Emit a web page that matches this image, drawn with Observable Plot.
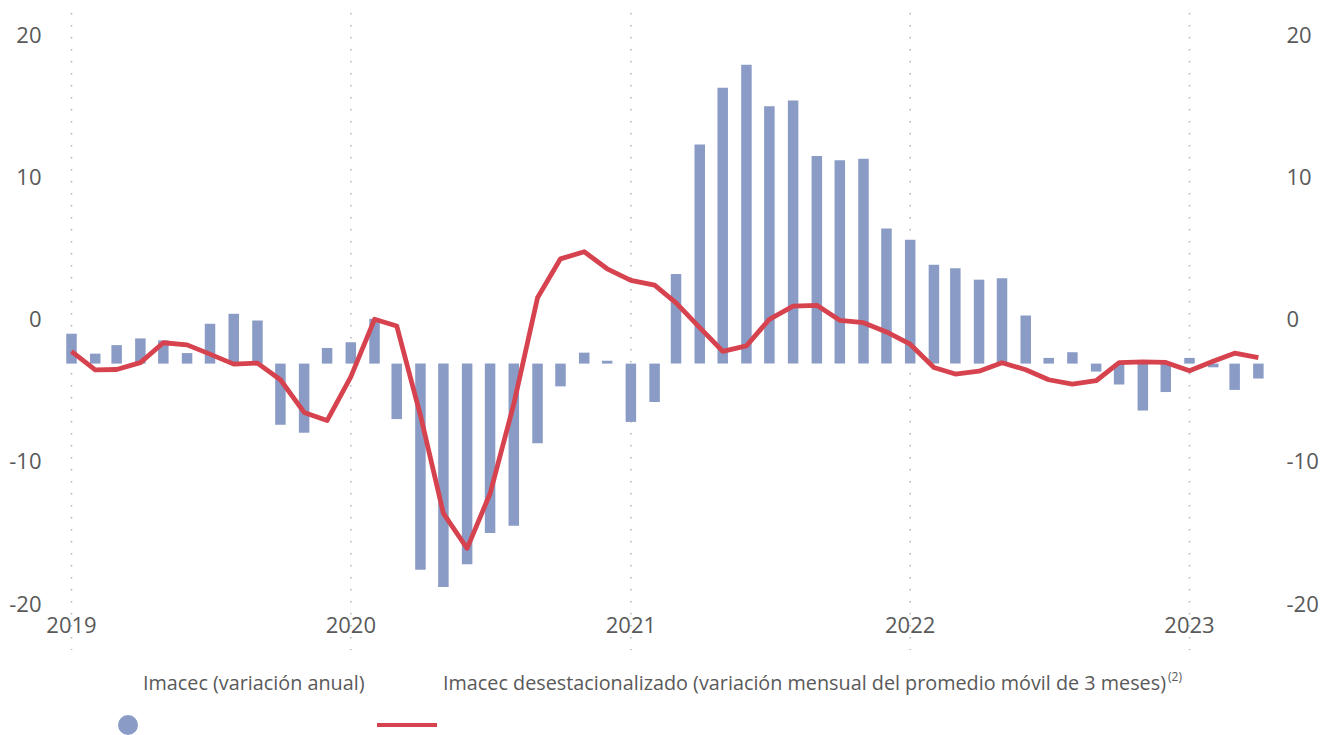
<!DOCTYPE html>
<html>
<head>
<meta charset="utf-8">
<script src="https://cdn.jsdelivr.net/npm/d3@7"></script>
<script src="https://cdn.jsdelivr.net/npm/@observablehq/plot@0.6"></script>
<style>
  html, body { margin: 0; padding: 0; background: #fff; }
  #wrap { position: relative; width: 1329px; height: 735px; font-family: "Open Sans", sans-serif; color: #595959; overflow: hidden; }
  .leg { position: absolute; font-size: 19.8px; line-height: 1; white-space: nowrap; }
  .leg sup { font-size: 12px; vertical-align: 0; position: relative; top: -9px; margin-left: 2px; }
</style>
</head>
<body>
<div id="wrap"></div>
<script>
// Monthly series, Jan 2019 .. Apr 2023
const startMonth = "2019-01";
const barValues = [
  -1.0, -2.4, -1.8, -1.33, -1.47, -2.36, -0.3, 0.4, -0.07, -7.4, -7.96, -2.0,
  -1.6, 0.05, -7.0, -17.6, -18.8, -17.2, -15.0, -14.5, -8.7, -4.7, -2.33, -2.9,
  -7.2, -5.8, 3.2, 12.3, 16.3, 17.9, 15.0, 15.4, 11.5, 11.2, 11.3, 6.4,
  5.6, 3.85, 3.6, 2.8, 2.9, 0.28, -2.7, -2.3, -3.66, -4.57, -6.4, -5.1,
  -2.7, -3.36, -4.95, -4.15
];
const barBase = -3.1;
const lineValues = [
  -2.2, -3.5, -3.48, -3.0, -1.6, -1.75, -2.4, -3.1, -3.03, -4.2, -6.5, -7.07,
  -4.0, 0.05, -0.42, -6.7, -13.6, -16.05, -12.2, -5.9, 1.56, 4.3, 4.8, 3.6,
  2.78, 2.45, 1.2, -0.54, -2.2, -1.82, 0.05, 0.98, 1.03, -0.02, -0.19, -0.84,
  -1.7, -3.34, -3.8, -3.6, -3.0, -3.5, -4.2, -4.5, -4.27, -3.0, -2.94, -2.98,
  -3.57, -2.9, -2.33, -2.64
];
const yearTicks = ["2019", "2020", "2021", "2022", "2023"];
const yTicks = [-20, -10, 0, 10, 20];
const seriesNames = ["Imacec (variación anual)", "Imacec desestacionalizado (variación mensual del promedio móvil de 3 meses)"];

const barColor = "#8a9bc6";
const lineColor = "#d6434f";

const t0 = d3.utcParse("%Y-%m")(startMonth);
const months = barValues.map((_, i) => d3.utcMonth.offset(t0, i));
const bars = barValues.map((v, i) => ({date: months[i], value: v, base: barBase}));
const line = lineValues.map((v, i) => ({date: months[i], value: v}));
const yearDates = yearTicks.map(y => d3.utcParse("%Y")(y));

const chart = Plot.plot({
  width: 1329,
  height: 660,
  marginTop: 13,
  marginBottom: 10,
  marginLeft: 50,
  marginRight: 54,
  style: {fontFamily: "Open Sans, sans-serif", fontSize: "22px", color: "#595959", background: "#fff", overflow: "visible"},
  x: {type: "utc", domain: [yearDates[0], yearDates[4]], range: [71, 1189]},
  y: {domain: [-20, 20], range: [604, 35]},
  marks: [
    Plot.gridX(yearDates, {stroke: "#b8b8b8", strokeOpacity: 1, strokeWidth: 1.6, strokeDasharray: "1.6 10.4"}),
    Plot.ruleX(bars, {x: "date", y1: "base", y2: "value", stroke: barColor, strokeWidth: 10.5}),
    Plot.line(line, {x: "date", y: "value", stroke: lineColor, strokeWidth: 4.8, strokeLinejoin: "round", strokeLinecap: "butt"}),
    Plot.axisY({anchor: "left", ticks: yTicks, tickSize: 0, tickPadding: 9, tickFormat: d => String(d), fill: "#595959"}),
    Plot.axisY({anchor: "right", ticks: yTicks, tickSize: 0, tickPadding: 11, tickFormat: d => String(d), fill: "#595959"}),
    Plot.axisX({ticks: yearDates, tickSize: 0, tickPadding: 0, dy: -33, tickFormat: d3.utcFormat("%Y"), fill: "#595959"})
  ]
});

const wrap = document.getElementById("wrap");
wrap.appendChild(chart);

// Legend below the SVG
const l1 = document.createElement("div");
l1.className = "leg";
l1.style.left = "143px"; l1.style.top = "673px";
l1.textContent = seriesNames[0];
wrap.appendChild(l1);

const l2 = document.createElement("div");
l2.className = "leg";
l2.style.left = "443px"; l2.style.top = "673px";
l2.innerHTML = seriesNames[1] + "<sup>(2)</sup>";
wrap.appendChild(l2);

const sym = document.createElementNS("http://www.w3.org/2000/svg", "svg");
sym.setAttribute("width", "1329"); sym.setAttribute("height", "75");
sym.style.position = "absolute"; sym.style.left = "0"; sym.style.top = "660px";
sym.innerHTML = `<circle cx="128" cy="65" r="10" fill="${barColor}"></circle>
<line x1="377" x2="437" y1="65" y2="65" stroke="${lineColor}" stroke-width="4"></line>`;
wrap.appendChild(sym);
</script>
</body>
</html>
